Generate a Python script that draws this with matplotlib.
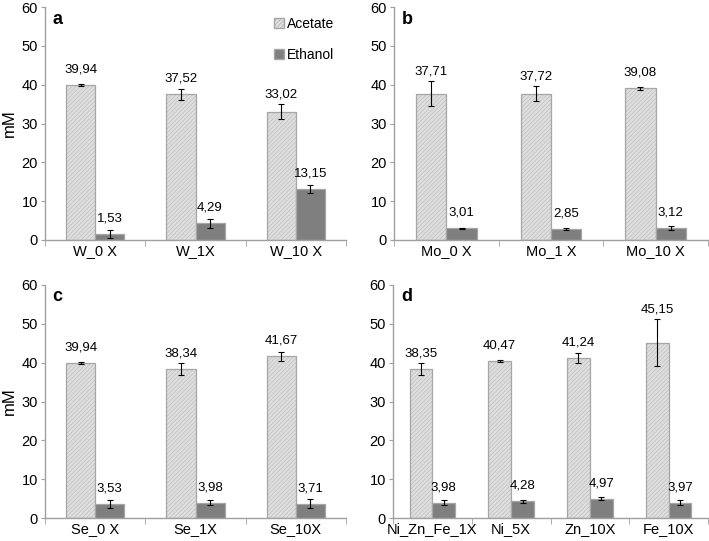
import matplotlib.pyplot as plt
import matplotlib.patches as mpatches
import numpy as np

plt.rcParams['font.family'] = ['Liberation Sans', 'DejaVu Sans']
plt.rcParams['hatch.linewidth'] = 0.35

# panel data
cats_a = ['W_0 X', 'W_1X', 'W_10 X']
acetate_a = [39.94, 37.52, 33.02]
acetate_err_a = [0.3, 1.4, 1.9]
ethanol_a = [1.53, 4.29, 13.15]
ethanol_err_a = [1.0, 1.2, 1.0]

cats_b = ['Mo_0 X', 'Mo_1 X', 'Mo_10 X']
acetate_b = [37.71, 37.72, 39.08]
acetate_err_b = [3.3, 1.9, 0.4]
ethanol_b = [3.01, 2.85, 3.12]
ethanol_err_b = [0.1, 0.3, 0.5]

cats_c = ['Se_0 X', 'Se_1X', 'Se_10X']
acetate_c = [39.94, 38.34, 41.67]
acetate_err_c = [0.2, 1.5, 1.2]
ethanol_c = [3.53, 3.98, 3.71]
ethanol_err_c = [1.0, 0.7, 1.2]

cats_d = ['Ni_Zn_Fe_1X', 'Ni_5X', 'Zn_10X', 'Fe_10X']
acetate_d = [38.35, 40.47, 41.24, 45.15]
acetate_err_d = [1.5, 0.3, 1.3, 6.0]
ethanol_d = [3.98, 4.28, 4.97, 3.97]
ethanol_err_d = [0.7, 0.4, 0.4, 0.7]

ACE_FACE = '#dedede'
ACE_HATCH = '#b4b4b4'
ETH_FACE = '#7f7f7f'
EDGE = '#a6a6a6'
AXIS = '#a0a0a0'


def fmt(v):
    return f"{v:.2f}".replace('.', ',')


def draw_panel(ax, cats, ace, ace_err, eth, eth_err, letter, ylabel=False):
    x = np.arange(len(cats))
    w = 0.29
    # hatched fill, then the outline on top
    ax.bar(x - w / 2, ace, w, color=ACE_FACE, edgecolor=ACE_HATCH,
           hatch='////////', linewidth=0, zorder=2)
    ax.bar(x - w / 2, ace, w, fill=False, edgecolor=EDGE, linewidth=0.9, zorder=2)
    ax.bar(x + w / 2, eth, w, color=ETH_FACE, edgecolor=EDGE,
           linewidth=0.9, zorder=2)
    ax.errorbar(x - w / 2, ace, yerr=ace_err, fmt='none', ecolor='black',
                elinewidth=0.8, capsize=2.5, capthick=0.8, zorder=3)
    ax.errorbar(x + w / 2, eth, yerr=eth_err, fmt='none', ecolor='black',
                elinewidth=0.8, capsize=2.5, capthick=0.8, zorder=3)
    for xs, vals, errs in ((x - w / 2, ace, ace_err), (x + w / 2, eth, eth_err)):
        for xi, v, e in zip(xs, vals, errs):
            ax.text(xi, max(v + 4, v + e + 2.5), fmt(v), ha='center',
                    va='center', fontsize=9.5)

    ax.set_xlim(-0.5, len(cats) - 0.5)
    ax.set_ylim(0, 60)
    ax.set_yticks(range(0, 61, 10))
    ax.set_xticks(x)
    ax.set_xticklabels(cats, fontsize=10.5)
    ax.set_xticks(np.arange(len(cats) + 1) - 0.5, minor=True)
    ax.tick_params(axis='x', which='major', length=0, pad=3)
    ax.tick_params(axis='x', which='minor', length=4, color=AXIS, direction='out')
    ax.tick_params(axis='y', length=3, color=AXIS, labelsize=10.5, pad=2)
    for s in ('top', 'right'):
        ax.spines[s].set_visible(False)
    for s in ('left', 'bottom'):
        ax.spines[s].set_color(AXIS)
        ax.spines[s].set_linewidth(1.0)
    ax.text(0.025, 0.985, letter, transform=ax.transAxes, fontsize=13,
            fontweight='bold', va='top', ha='left')
    if ylabel:
        ax.set_ylabel('mM', fontsize=12)
        ax.yaxis.set_label_coords(-0.095, 0.5)


fig = plt.figure(figsize=(7.09, 5.41), dpi=100)
ax_a = fig.add_axes([0.0635, 0.5564, 0.4245, 0.4306])
ax_b = fig.add_axes([0.5557, 0.5564, 0.4429, 0.4306])
ax_c = fig.add_axes([0.0635, 0.0425, 0.4245, 0.4307])
ax_d = fig.add_axes([0.5543, 0.0425, 0.4443, 0.4307])

draw_panel(ax_a, cats_a, acetate_a, acetate_err_a, ethanol_a, ethanol_err_a, 'a', True)
draw_panel(ax_b, cats_b, acetate_b, acetate_err_b, ethanol_b, ethanol_err_b, 'b')
draw_panel(ax_c, cats_c, acetate_c, acetate_err_c, ethanol_c, ethanol_err_c, 'c', True)
draw_panel(ax_d, cats_d, acetate_d, acetate_err_d, ethanol_d, ethanol_err_d, 'd')

handles = [
    mpatches.Patch(facecolor=ACE_FACE, edgecolor=EDGE, hatch='////////', label='Acetate'),
    mpatches.Patch(facecolor=ETH_FACE, edgecolor=EDGE, label='Ethanol'),
]
ax_a.legend(handles=handles, loc='upper left', bbox_to_anchor=(0.72, 1.01),
            frameon=False, handlelength=0.7, handleheight=0.7, handletextpad=0.2,
            labelspacing=1.2, fontsize=10)

fig.savefig('out.png', dpi=100)
